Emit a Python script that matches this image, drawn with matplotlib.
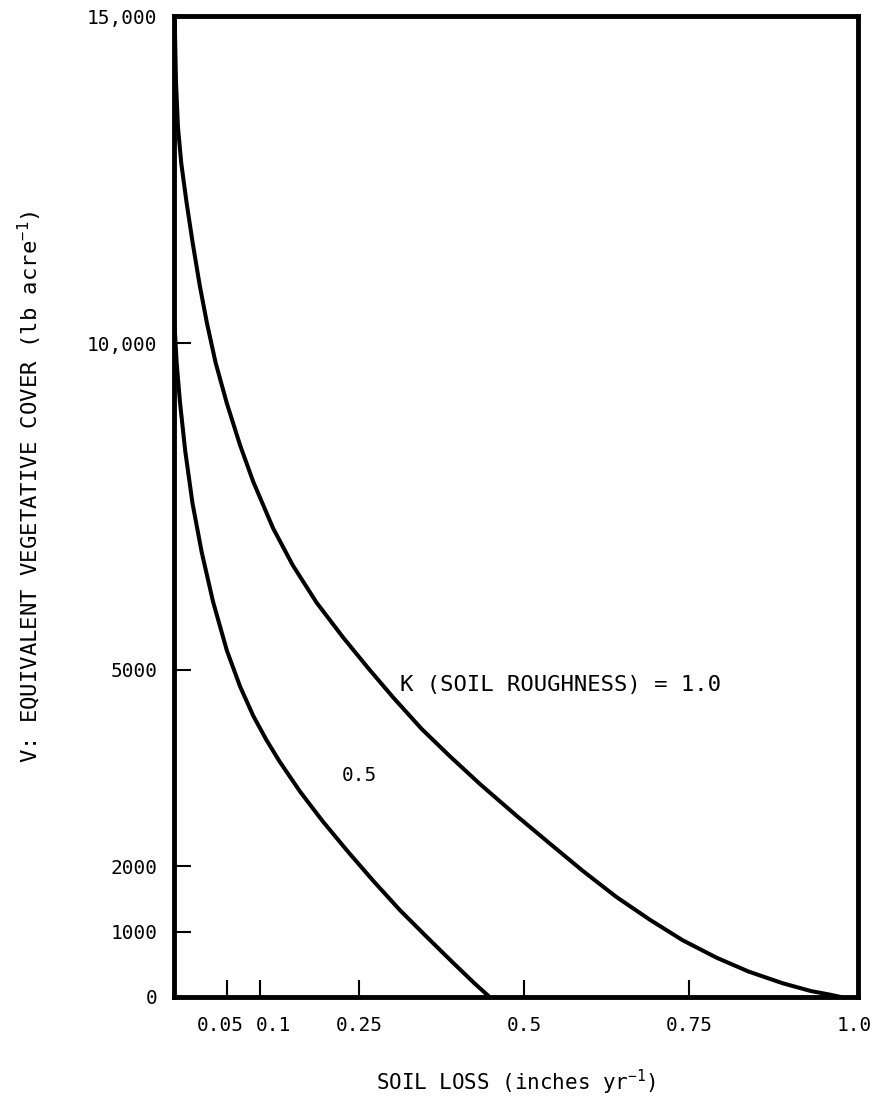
import matplotlib
matplotlib.use("Agg")
import matplotlib.pyplot as plt
import matplotlib.transforms as mtransforms

plt.rcParams['font.family'] = ['DejaVu Sans Mono', 'DejaVu Sans']
plt.rcParams['mathtext.default'] = 'regular'

# curve K = 1.0 (soil loss, equivalent cover)
loss_k10 = [-0.029, -0.027, -0.024, -0.019, -0.011, -0.002, 0.009, 0.020, 0.033,
            0.050, 0.070, 0.090, 0.120, 0.150, 0.186, 0.226, 0.264, 0.302,
            0.345, 0.388, 0.433, 0.489, 0.540, 0.589, 0.640, 0.691, 0.740,
            0.792, 0.840, 0.892, 0.935, 0.964, 0.980]
cover_k10 = [15000, 14000, 13300, 12750, 12150, 11550, 10880, 10300, 9700,
             9080, 8440, 7880, 7170, 6600, 6030, 5500, 5030, 4580,
             4100, 3680, 3260, 2770, 2340, 1930, 1530, 1180, 870,
             600, 390, 210, 90, 35, 0]

# curve K = 0.5
loss_k05 = [-0.030, -0.026, -0.021, -0.013, -0.002, 0.012, 0.029, 0.050, 0.070,
            0.090, 0.110, 0.130, 0.161, 0.195, 0.232, 0.271, 0.312, 0.353,
            0.392, 0.425, 0.448]
cover_k05 = [10430, 9700, 9100, 8350, 7550, 6800, 6050, 5300, 4750,
             4300, 3930, 3600, 3140, 2690, 2240, 1785, 1330, 917,
             530, 210, 0]

x_ticks = [0.05, 0.1, 0.25, 0.5, 0.75, 1.0]
x_labels = ["0.05", "0.1", "0.25", "0.5", "0.75", "1.0"]
y_ticks = [0, 1000, 2000, 5000, 10000, 15000]
y_labels = ["0", "1000", "2000", "5000", "10,000", "15,000"]

fig = plt.figure(figsize=(8.77, 10.98), dpi=100)
ax = fig.add_axes([0.1984, 0.0920, 0.7799, 0.8934])

ax.plot(loss_k10, cover_k10, color="black", lw=2.9, solid_capstyle="butt",
        solid_joinstyle="round")
ax.plot(loss_k05, cover_k05, color="black", lw=2.9, solid_capstyle="butt",
        solid_joinstyle="round")

ax.set_xlim(-0.030, 1.006)
ax.set_ylim(0, 15000)

ax.set_xticks(x_ticks)
ax.set_xticklabels(x_labels)
ax.set_yticks(y_ticks)
ax.set_yticklabels(y_labels)
ax.tick_params(axis="both", direction="in", length=12, width=1.5,
               labelsize=14, colors="black")
ax.tick_params(axis="x", pad=14)
ax.tick_params(axis="y", pad=12)
ax.xaxis.get_major_ticks()[-1].tick1line.set_visible(False)

# nudge the crowded labels apart like in the original
for lab, dx in zip(ax.get_xticklabels()[:2], [-0.07, 0.14]):
    lab.set_transform(lab.get_transform() +
                      mtransforms.ScaledTranslation(dx, 0, fig.dpi_scale_trans))

for s in ax.spines.values():
    s.set_linewidth(3.5)
    s.set_color("black")

ax.set_xlabel("SOIL LOSS (inches yr$^{-1}$)", fontsize=15)
ax.xaxis.set_label_coords(0.5, -0.072)
ax.set_ylabel("V: EQUIVALENT VEGETATIVE COVER (lb acre$^{-1}$)", fontsize=16)
ax.yaxis.set_label_coords(-0.19, 0.52)

ax.text(0.312, 4770, "K (SOIL ROUGHNESS) = 1.0", fontsize=16,
        ha="left", va="center")
ax.text(0.224, 3394, "0.5", fontsize=14, ha="left", va="center")

fig.savefig("out.png", dpi=100, facecolor="white")
